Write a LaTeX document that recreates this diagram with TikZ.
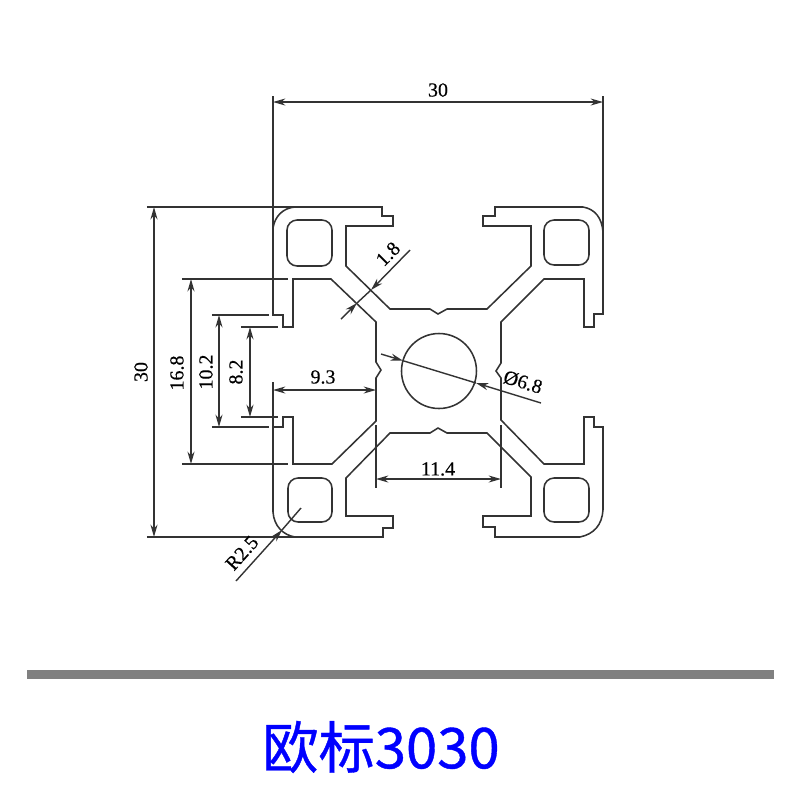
\documentclass[tikz,border=0pt]{standalone}
\usepackage{fontspec}
\usepackage{xcolor}
\setmainfont{Liberation Serif}
\newfontfamily\cjk[FakeBold=0.7]{Noto Sans CJK SC}
\newfontfamily\dimfont[FakeBold=0.35]{Liberation Serif}
\usetikzlibrary{arrows.meta}
\definecolor{linegray}{gray}{0.2}
\tikzset{
	profile/.style = {draw=linegray, line width=0.55pt, line join=miter},
	dimline/.style = {draw=linegray, line width=0.5pt, {Stealth[length=4.4pt,width=2.5pt]}-{Stealth[length=4.4pt,width=2.5pt]}},
	leader/.style  = {draw=linegray, line width=0.5pt},
	tipline/.style = {leader, -{Stealth[length=4.4pt,width=2.5pt]}},
	dimtext/.style = {font=\dimfont\fontsize{7.1pt}{8pt}\selectfont, text=black, inner sep=0pt}
}

\begin{document}
\begin{tikzpicture}[x=0.0125cm,y=-0.0125cm]
	\useasboundingbox (0,0) rectangle (800,800);

	% outline
	\draw[profile] (295,207) -- (382,207) -- (382,216) -- (393,216) -- (393,226) -- (346,226) -- (346,266)
		-- (390,309) -- (430,309) -- (438,314) -- (447,309) -- (487,309) -- (531,266) -- (531,226)
		-- (483,226) -- (483,216) -- (495,216) -- (495,207) -- (583,207)
		.. controls (595,209) and (602,218) .. (603,232) -- (603,314) -- (594,314) -- (594,327) -- (584,327)
		-- (584,279) -- (544,279) -- (501,322) -- (501,363) -- (496,371) -- (501,378) -- (501,420)
		-- (544,464) -- (584,464) -- (584,417) -- (594,417) -- (594,427) -- (603,427) -- (603,510)
		.. controls (602,525) and (594,534) .. (580,537) -- (495,537) -- (495,527) -- (483,527) -- (483,516)
		-- (531,516) -- (531,477) -- (487,433) -- (447,433) -- (438,428) -- (430,433) -- (390,433)
		-- (346,478) -- (346,516) -- (393,516) -- (393,528) -- (383,528) -- (383,537) -- (295,537)
		.. controls (283,535) and (274,526) .. (273,512) -- (273,427) -- (283,427) -- (283,417) -- (293,417)
		-- (293,464) -- (332,464) -- (376,421) -- (376,378) -- (381,370) -- (376,362) -- (376,322)
		-- (331,279) -- (293,279) -- (293,327) -- (283,327) -- (283,315) -- (273,315) -- (273,228)
		.. controls (275,216) and (283,208) .. (295,207) -- cycle;

	% hollow corners and bore
	\draw[profile, rounded corners=3.6pt] (287,220) rectangle (332,266);
	\draw[profile, rounded corners=3.6pt] (544,220) rectangle (589,265);
	\draw[profile, rounded corners=3.6pt] (288,478) rectangle (332,522);
	\draw[profile, rounded corners=3.6pt] (544,478) rectangle (589,522);
	\draw[profile] (439,371) circle (37.5);

	% extension lines
	\draw[leader] (273,96) -- (273,228);
	\draw[leader] (603,96) -- (603,232);
	\draw[leader] (147,207) -- (295,207);
	\draw[leader] (147,537) -- (295,537);
	\draw[leader] (182,279) -- (288,279);
	\draw[leader] (182,464) -- (288,464);
	\draw[leader] (212,315) -- (269,315);
	\draw[leader] (212,427) -- (269,427);
	\draw[leader] (241,327) -- (278,327);
	\draw[leader] (241,417) -- (278,417);
	\draw[leader] (273,382) -- (273,427);
	\draw[leader] (376,425) -- (376,488);
	\draw[leader] (501,425) -- (501,488);

	% dimensions
	\draw[dimline] (273,102) -- (603,102);
	\draw[dimline] (154,207) -- (154,537);
	\draw[dimline] (191,279) -- (191,464);
	\draw[dimline] (219,315) -- (219,427);
	\draw[dimline] (250,327) -- (250,417);
	\draw[dimline] (273,390) -- (376,390);
	\draw[dimline] (376,479) -- (501,479);

	% slanted leaders
	\coordinate (wallA) at (341,319);
	\coordinate (wallB) at (357,303);
	\coordinate (wallC) at (371,290);
	\coordinate (wallD) at (410,250);
	\draw[tipline] (wallA) -- (wallB);
	\draw[leader] (wallB) -- (wallC);
	\draw[tipline] (wallD) -- (wallC);

	\coordinate (boreA) at (381,354);
	\coordinate (boreB) at (403,360.7);
	\coordinate (boreC) at (476,383);
	\coordinate (boreD) at (541,403);
	\draw[tipline] (boreA) -- (boreB);
	\draw[leader] (boreB) -- (boreC);
	\draw[tipline] (boreD) -- (boreC);

	\coordinate (radA) at (236,581);
	\coordinate (radB) at (282,530);
	\coordinate (radC) at (301,508);
	\draw[tipline] (radA) -- (radB);
	\draw[leader] (radB) -- (radC);

	% labels
	\node[dimtext] (width30)  at (438,90) {30};
	\node[dimtext, rotate=90] (height30) at (141,372) {30};
	\node[dimtext, rotate=90] (slot168)  at (177,373) {16.8};
	\node[dimtext, rotate=90] (slot102)  at (206,372) {10.2};
	\node[dimtext, rotate=90] (slot82)   at (236,372) {8.2};
	\node[dimtext] (web93)  at (323,377) {9.3};
	\node[dimtext] (web114) at (438,469) {11.4};
	\node[dimtext, rotate=45]  (wall18) at (388,254) {1.8};
	\node[dimtext, rotate=48]  (rad25)  at (242,553) {R2.5};
	\node[dimtext, rotate=-17] (bore68) at (523,382) {Ø6.8};

	% bar and title
	\fill[gray] (27,670) rectangle (774,679);
	\node[inner sep=0pt, text=blue, font=\cjk\fontsize{20pt}{24pt}\selectfont] (title) at (381,747) {欧标3030};
\end{tikzpicture}
\end{document}
